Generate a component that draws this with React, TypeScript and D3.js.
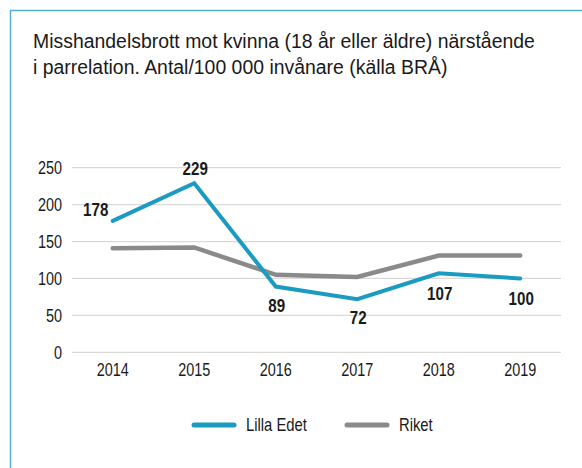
import { useRef, useEffect } from "react";
import * as d3 from "d3";

const years = ["2014", "2015", "2016", "2017", "2018", "2019"];
const lillaEdet = [178, 229, 89, 72, 107, 100];
const riket = [141, 142, 105, 102, 131, 131];
const yTicks = [0, 50, 100, 150, 200, 250];
const titleLines = [
  "Misshandelsbrott mot kvinna (18 år eller äldre) närstående",
  "i parrelation. Antal/100 000 invånare (källa BRÅ)",
];
const seriesNames = ["Lilla Edet", "Riket"];

const BLUE = "#1b9bc1";
const GRAY = "#8a8a8a";
const TEXT = "#1a1a1a";
const FONT = "'Liberation Sans', Arial, sans-serif";

type G = d3.Selection<SVGGElement, unknown, null, undefined>;

// the original uses a condensed face; squeeze Liberation Sans horizontally
function label(
  g: G,
  x: number,
  y: number,
  text: string | number,
  opts: { size: number; sx: number; anchor?: string; bold?: boolean; dy?: string }
) {
  return g.append("text")
    .attr("transform", `translate(${x},${y}) scale(${opts.sx},1)`)
    .attr("dy", opts.dy ?? null)
    .attr("text-anchor", opts.anchor ?? "start")
    .attr("font-family", FONT)
    .attr("font-size", opts.size)
    .attr("font-weight", opts.bold ? "bold" : "normal")
    .attr("fill", TEXT)
    .text(text);
}

export default function App() {
  const svgRef = useRef<SVGSVGElement>(null);

  useEffect(() => {
    if (!svgRef.current) return;
    const svg = d3.select(svgRef.current);
    svg.selectAll("*").remove();

    const width = 582;
    const height = 468;
    const root = svg.append("g") as G;

    // frame: only top and left edges show
    root.append("path")
      .attr("d", `M10.5,${height} V10.5 H${width}`)
      .attr("fill", "none")
      .attr("stroke", "#4fb3d4")
      .attr("stroke-width", 1.5);

    titleLines.forEach((t, i) => {
      label(root, 33, 48 + i * 26, t, { size: 21, sx: 0.925 });
    });

    const x = d3.scaleBand<string>().domain(years).range([72, 561]);
    const cx = (d: string) => (x(d) ?? 0) + x.bandwidth() / 2;
    const y = d3.scaleLinear().domain([0, 250]).range([352.3, 167.7]);

    // gridlines
    root.append("g")
      .selectAll("line")
      .data(yTicks)
      .enter()
      .append("line")
      .attr("x1", 72)
      .attr("x2", 561)
      .attr("y1", (d) => y(d))
      .attr("y2", (d) => y(d))
      .attr("stroke", "#d9d9d9")
      .attr("stroke-width", 1.3);

    yTicks.forEach((d) => {
      label(root, 62, y(d), d, { size: 18.5, sx: 0.78, anchor: "end", dy: "0.35em" });
    });

    years.forEach((d) => {
      label(root, cx(d), 376, d, { size: 18.5, sx: 0.78, anchor: "middle" });
    });

    const line = d3.line<number>()
      .x((_, i) => cx(years[i]))
      .y((d) => y(d));

    root.append("path")
      .datum(riket)
      .attr("fill", "none")
      .attr("stroke", GRAY)
      .attr("stroke-width", 4.5)
      .attr("stroke-linecap", "round")
      .attr("d", line);

    root.append("path")
      .datum(lillaEdet)
      .attr("fill", "none")
      .attr("stroke", BLUE)
      .attr("stroke-width", 4)
      .attr("stroke-linecap", "round")
      .attr("d", line);

    // data labels for Lilla Edet
    lillaEdet.forEach((d, i) => {
      let lx = cx(years[i]) + 1;
      let ly = y(d) + 25;
      if (i === 0) {
        lx = cx(years[i]) - 17;
        ly = y(d) - 5;
      } else if (d > riket[i]) {
        ly = y(d) - 8;
      } else if (i >= 4) {
        ly = y(d) + 27;
      }
      label(root, lx, ly, d, { size: 18.5, sx: 0.82, anchor: "middle", bold: true });
    });

    // legend
    const legend = root.append("g").attr("transform", "translate(0,425)") as G;
    const legendX = [192, 345];
    const colors = [BLUE, GRAY];
    seriesNames.forEach((name, i) => {
      legend.append("line")
        .attr("x1", legendX[i] + 2)
        .attr("x2", legendX[i] + 42)
        .attr("stroke", colors[i])
        .attr("stroke-width", 5)
        .attr("stroke-linecap", "round");
      label(legend, legendX[i] + 54, 0, name, { size: 18.5, sx: 0.8, dy: "0.35em" });
    });
  }, []);

  return (
    <svg
      ref={svgRef}
      width={582}
      height={468}
      style={{ position: "absolute", left: 0, top: 0, background: "#fff" }}
    />
  );
}
